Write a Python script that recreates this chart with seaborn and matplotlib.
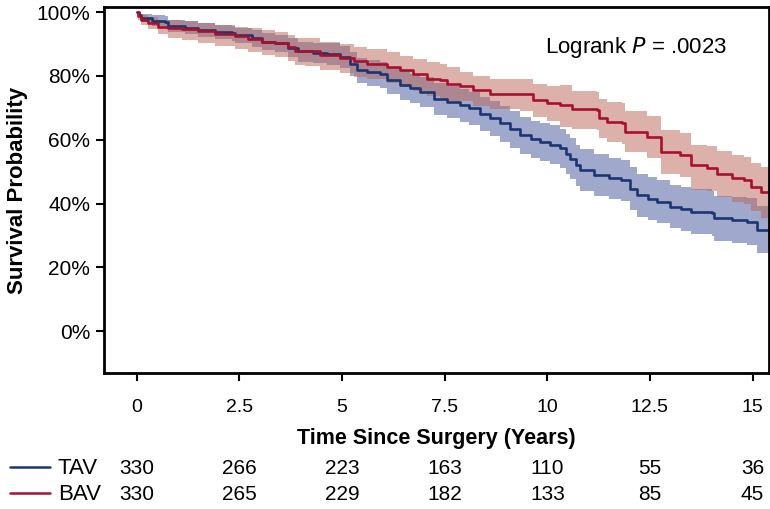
import numpy as np
import pandas as pd
import matplotlib
matplotlib.use("Agg")
import matplotlib.pyplot as plt
import matplotlib.transforms as mtransforms
import seaborn as sns

# Kaplan-Meier estimates (years, % surviving, 95% CI)
tav_time = [0, 0.05, 0.11, 0.36, 0.68, 0.76, 1.17, 1.5, 1.9, 2.31, 2.39, 2.8, 3.04, 3.37, 3.69,
            3.93, 4.3, 4.63, 4.95, 5.2, 5.36, 5.6, 5.93, 6.09, 6.41, 6.65, 6.9, 7.23, 7.55, 7.88,
            8.1, 8.37, 8.6, 8.85, 9.1, 9.34, 9.6, 9.83, 10.07, 10.3, 10.45, 10.56, 10.7, 10.8,
            11.13, 11.5, 11.8, 12.02, 12.19, 12.45, 12.67, 13.0, 13.25, 13.5, 14.0, 14.06, 14.5,
            14.87, 15.11, 15.5]
tav_surv = [100, 99.2, 98.3, 97.3, 96.9, 95.8, 95.2, 94.5, 93.9, 93.4, 92.7, 91.8, 90.8, 90.3, 88.9,
            87.7, 87.3, 87.0, 86.0, 83.9, 81.8, 81.1, 80.5, 78.7, 77.1, 76.2, 75.0, 72.9, 71.9, 70.8,
            70.0, 68.2, 66.8, 65.1, 63.3, 61.4, 60.2, 59.3, 58.5, 57.3, 55.6, 54.1, 52.0, 50.5,
            48.9, 47.9, 47.3, 44.7, 42.6, 41.5, 40.5, 39.0, 38.2, 37.4, 36.9, 35.3, 34.8,
            34.3, 31.7, 31.7]
tav_low = [100, 98.4, 97.0, 95.6, 95.1, 93.8, 93.1, 92.3, 91.6, 91.0, 90.2, 89.1, 88.0, 87.4, 85.8,
           84.5, 84.0, 83.6, 82.5, 80.1, 77.8, 77.0, 76.3, 74.3, 72.5, 71.5, 70.2, 67.9, 66.8, 65.6,
           64.7, 62.7, 61.2, 59.4, 57.5, 55.5, 54.2, 53.2, 52.4, 51.1, 49.3, 47.8, 45.6, 44.0,
           42.4, 41.3, 40.7, 38.0, 35.9, 34.8, 33.8, 32.2, 31.3, 30.5, 29.9, 28.2, 27.6,
           27.0, 24.4, 24.4]
tav_high = [100, 100, 99.6, 99.0, 98.7, 97.6, 97.2, 96.6, 96.1, 95.7, 95.1, 94.3, 93.4, 93.0, 91.8,
            90.8, 90.4, 90.2, 89.3, 87.5, 85.6, 85.0, 84.5, 82.9, 81.5, 80.7, 79.6, 77.7, 76.8, 75.8,
            75.1, 73.4, 72.1, 70.5, 68.9, 67.1, 66.0, 65.2, 64.5, 63.4, 61.8, 60.4, 58.4, 57.0,
            55.4, 54.4, 53.8, 51.4, 49.4, 48.3, 47.4, 45.9, 45.1, 44.4, 44.0, 42.5, 42.1,
            41.7, 39.2, 39.2]

bav_time = [0, 0.04, 0.11, 0.28, 0.52, 0.76, 1.09, 1.5, 1.9, 2.39, 2.72, 3.04, 3.37, 3.69, 3.85,
            4.1, 4.46, 4.95, 5.3, 5.6, 6.09, 6.41, 6.74, 7.07, 7.39, 7.55, 7.88, 8.2, 8.6, 9.34,
            9.66, 10.0, 10.3, 10.6, 11.2, 11.25, 11.45, 11.82, 11.9, 12.43, 12.76, 13.24, 13.5,
            13.9, 14.14, 14.5, 14.8, 14.95, 15.2, 15.5]
bav_surv = [100, 98.8, 97.6, 96.6, 95.5, 95.2, 94.8, 94.1, 93.1, 92.4, 91.6, 90.8, 90.3, 89.2, 87.9,
            87.7, 86.5, 85.7, 84.6, 83.9, 82.9, 81.8, 80.5, 79.2, 78.7, 77.6, 76.8, 75.5, 74.5, 74.2,
            72.4, 71.6, 70.8, 69.6, 69.3, 66.8, 65.6, 65.1, 62.5, 60.9, 56.2, 55.2, 52.0,
            51.0, 49.4, 47.9, 47.3, 45.2, 43.7, 43.7]
bav_low = [100, 97.6, 95.9, 94.6, 93.2, 91.8, 91.3, 90.5, 89.3, 88.6, 87.6, 86.7, 86.1, 84.8, 83.3,
           83.1, 81.8, 80.9, 79.7, 78.9, 77.8, 76.6, 75.2, 73.8, 73.2, 72.0, 72.2, 70.7, 69.5, 69.0,
           67.0, 65.9, 64.0, 63.5, 63.1, 60.5, 59.2, 58.6, 56.0, 54.3, 49.4, 48.3, 44.2,
           43.9, 42.1, 40.5, 39.8, 37.5, 35.3, 35.3]
bav_high = [100, 99.9, 99.2, 98.5, 97.7, 97.5, 97.2, 96.7, 95.9, 95.5, 94.9, 94.3, 93.9, 93.0, 91.9,
            91.8, 90.7, 90.0, 89.1, 88.5, 87.6, 86.2, 85.4, 84.3, 83.8, 82.9, 81.2, 80.0, 79.2, 79.0,
            77.5, 76.9, 77.3, 75.3, 75.1, 72.9, 71.8, 71.4, 68.9, 67.5, 63.1, 62.2, 58.5,
            57.9, 56.5, 55.2, 54.6, 52.7, 51.5, 51.5]

# numbers at risk
risk_times = [0, 2.5, 5, 7.5, 10, 12.5, 15]
tav_risk = [330, 266, 223, 163, 110, 55, 36]
bav_risk = [330, 265, 229, 182, 133, 85, 45]

logrank_p = ".0023"

tav_color = "#1b3672"
bav_color = "#a8102e"
tav_fill = "#435399"
bav_fill = "#b96557"

sns.set_theme(style="white")
plt.rcParams["font.family"] = ["Liberation Sans", "DejaVu Sans"]
plt.rcParams["text.color"] = "black"
plt.rcParams["axes.labelcolor"] = "black"
plt.rcParams["xtick.color"] = "black"
plt.rcParams["ytick.color"] = "black"

df = pd.concat([
    pd.DataFrame({"time": tav_time, "surv": tav_surv, "group": "TAV"}),
    pd.DataFrame({"time": bav_time, "surv": bav_surv, "group": "BAV"}),
])

fig = plt.figure(figsize=(7.7, 5.09), dpi=100)
ax = fig.add_axes([0.135, 0.267, 0.8637, 0.719])

ax.fill_between(tav_time, tav_low, tav_high, step="post", color=tav_fill, alpha=0.5, lw=0)
ax.fill_between(bav_time, bav_low, bav_high, step="post", color=bav_fill, alpha=0.5, lw=0)

sns.lineplot(data=df, x="time", y="surv", hue="group", palette={"TAV": tav_color, "BAV": bav_color},
             drawstyle="steps-post", linewidth=1.9, legend=False, ax=ax, estimator=None)

ax.set_xlim(-0.8, 15.4)
ax.set_ylim(-13.2, 101.6)
ax.set_xticks(risk_times)
ax.set_xticklabels(["0", "2.5", "5", "7.5", "10", "12.5", "15"], fontsize=14)
ax.set_yticks([0, 20, 40, 60, 80, 100])
ax.set_yticklabels([f"{v}%" for v in [0, 20, 40, 60, 80, 100]], fontsize=15)
ax.tick_params(axis="both", direction="out", length=6, width=1.5, color="black",
               bottom=True, left=True)
ax.tick_params(axis="x", pad=13)
ax.tick_params(axis="y", pad=4)
for s in ax.spines.values():
    s.set_color("black")
    s.set_linewidth(2)

ax.set_xlabel("Time Since Surgery (Years)", fontsize=15.5, fontweight="bold", labelpad=8)
ax.set_ylabel("Survival Probability", fontsize=16, fontweight="bold", labelpad=6)

ax.text(0.663, 0.891, "Logrank $\\mathit{P}$ = " + logrank_p, transform=ax.transAxes,
        fontsize=16, ha="left", va="center")

# numbers-at-risk table under the axis
trans = mtransforms.blended_transform_factory(ax.transData, fig.transFigure)
rows = [("TAV", tav_risk, tav_color, 0.079), ("BAV", bav_risk, bav_color, 0.028)]
for name, counts, color, yf in rows:
    fig.add_artist(plt.Line2D([0.013, 0.065], [yf + 0.004, yf + 0.004], color=color, lw=1.8,
                              transform=fig.transFigure))
    fig.text(0.075, yf, name, fontsize=16, ha="left", va="center")
    for t, n in zip(risk_times, counts):
        ax.text(t, yf, str(n), transform=trans, fontsize=15,
                ha="center", va="center", clip_on=False)

fig.savefig("out.png", dpi=100)
